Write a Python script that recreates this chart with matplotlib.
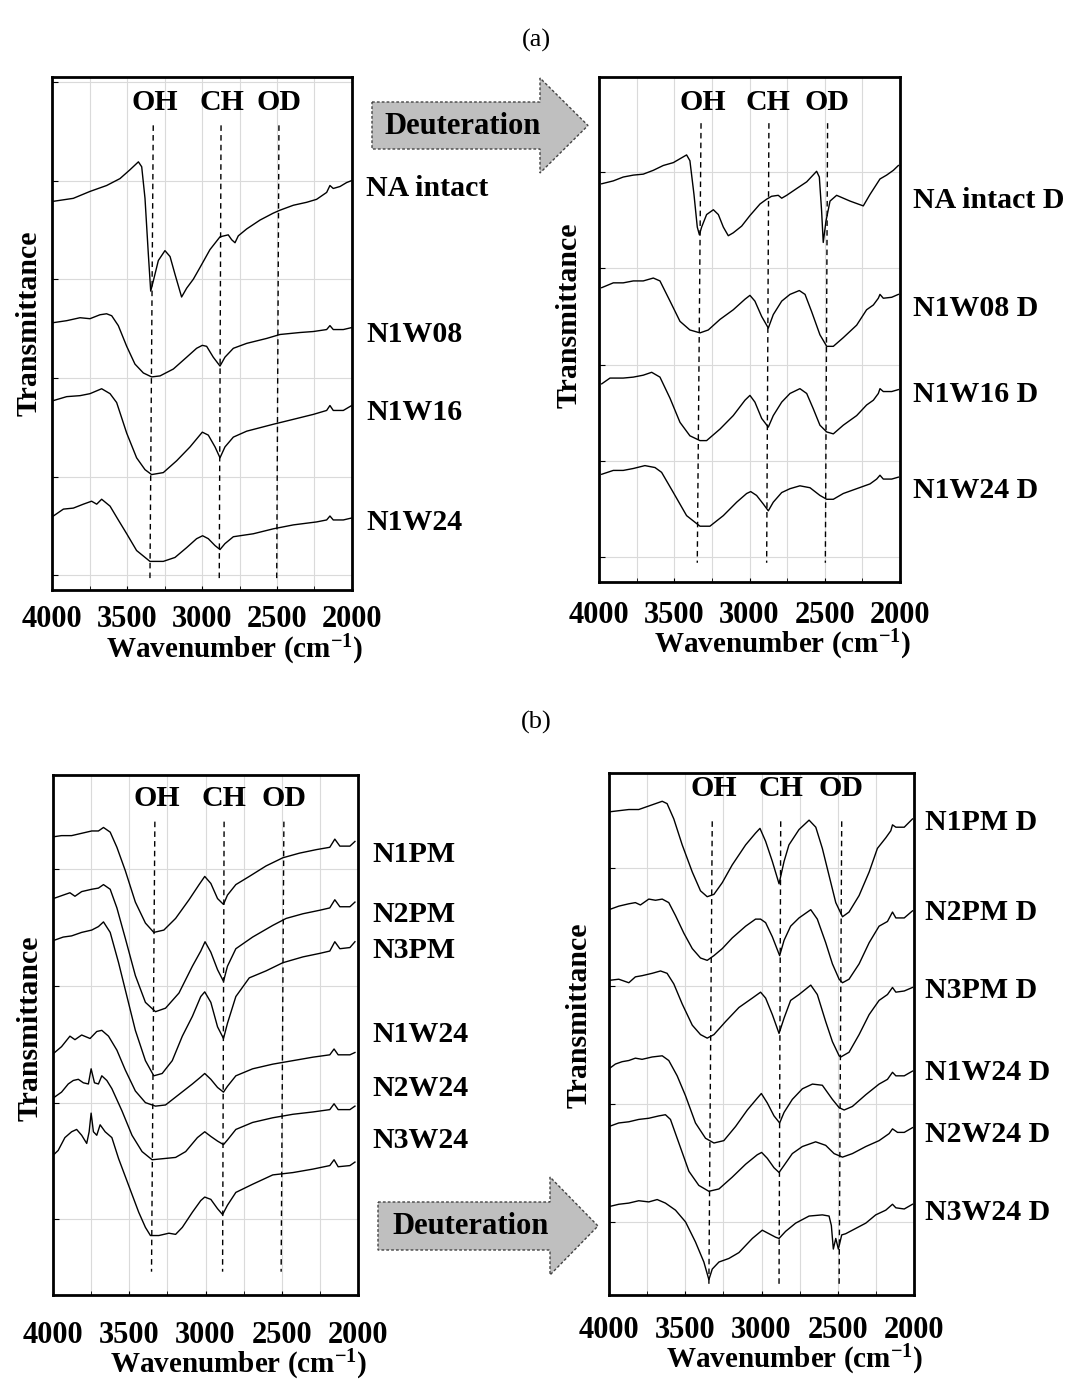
import matplotlib
matplotlib.use('Agg')
import matplotlib.pyplot as plt
from matplotlib.patches import Polygon
from matplotlib.ticker import MultipleLocator

plt.rcParams['font.family'] = ['Liberation Serif', 'DejaVu Serif']
plt.rcParams['mathtext.fontset'] = 'custom'
plt.rcParams['mathtext.rm'] = 'Liberation Serif:bold'
plt.rcParams['mathtext.it'] = 'Liberation Serif:bold'
plt.rcParams['mathtext.bf'] = 'Liberation Serif:bold'

# ---------------- data (wavenumber cm-1, transmittance a.u. offset) ----------------
xticks = [4000, 3500, 3000, 2500, 2000]
peak_names = ['OH', 'CH', 'OD']

# panel (a) left
NA_wn = [3991, 3858, 3747, 3636, 3547, 3480, 3424, 3402, 3380, 3358, 3342, 3325, 3291, 3247, 3213, 3180, 3136, 3102, 3058, 3013, 2947, 2880, 2825, 2802, 2780, 2758, 2702, 2613, 2525, 2480, 2391, 2302, 2236, 2169, 2147, 2125, 2080, 2036, 2002]
NA_T = [4.79, 4.82, 4.89, 4.95, 5.02, 5.11, 5.19, 5.14, 4.82, 4.26, 3.88, 3.98, 4.19, 4.29, 4.23, 4.05, 3.82, 3.91, 4.00, 4.12, 4.30, 4.43, 4.45, 4.40, 4.37, 4.44, 4.51, 4.60, 4.67, 4.70, 4.75, 4.78, 4.81, 4.88, 4.95, 4.92, 4.94, 4.98, 5.00]
N1W08_wn = [3991, 3902, 3813, 3747, 3680, 3636, 3602, 3558, 3502, 3447, 3391, 3336, 3280, 3191, 3102, 3036, 2998, 2969, 2925, 2880, 2847, 2791, 2702, 2569, 2480, 2347, 2258, 2169, 2147, 2125, 2058, 2002]
N1W08_T = [3.56, 3.58, 3.61, 3.60, 3.64, 3.65, 3.63, 3.53, 3.32, 3.14, 3.05, 3.01, 3.02, 3.09, 3.21, 3.30, 3.33, 3.32, 3.21, 3.12, 3.21, 3.30, 3.35, 3.40, 3.44, 3.46, 3.47, 3.49, 3.53, 3.49, 3.49, 3.51]
N1W16_wn = [3991, 3902, 3813, 3747, 3669, 3613, 3569, 3502, 3436, 3380, 3336, 3258, 3169, 3080, 2998, 2958, 2913, 2880, 2847, 2791, 2702, 2525, 2391, 2258, 2169, 2147, 2125, 2058, 2002]
N1W16_T = [2.77, 2.81, 2.82, 2.84, 2.89, 2.84, 2.75, 2.44, 2.19, 2.07, 2.02, 2.04, 2.16, 2.30, 2.45, 2.42, 2.30, 2.19, 2.30, 2.40, 2.46, 2.53, 2.58, 2.63, 2.67, 2.72, 2.67, 2.67, 2.72]
N1W24a_wn = [3991, 3924, 3858, 3791, 3736, 3702, 3669, 3613, 3558, 3502, 3436, 3347, 3258, 3180, 3102, 3036, 2996, 2958, 2913, 2880, 2847, 2791, 2658, 2525, 2391, 2236, 2169, 2147, 2125, 2058, 2002]
N1W24a_T = [1.60, 1.67, 1.68, 1.72, 1.75, 1.72, 1.77, 1.70, 1.56, 1.42, 1.25, 1.14, 1.14, 1.18, 1.28, 1.37, 1.40, 1.37, 1.30, 1.26, 1.32, 1.39, 1.42, 1.47, 1.51, 1.54, 1.56, 1.60, 1.56, 1.56, 1.58]

# panel (a) right (deuterated)
NAD_wn = [3982, 3905, 3839, 3772, 3706, 3639, 3573, 3506, 3418, 3396, 3369, 3347, 3333, 3318, 3285, 3240, 3207, 3174, 3141, 3108, 3052, 2997, 2930, 2886, 2853, 2809, 2786, 2753, 2687, 2620, 2554, 2536, 2521, 2510, 2492, 2465, 2421, 2332, 2244, 2199, 2133, 2089, 2044, 2011]
NAD_T = [4.88, 4.91, 4.95, 4.97, 4.98, 5.02, 5.07, 5.10, 5.18, 5.12, 4.77, 4.43, 4.35, 4.43, 4.56, 4.61, 4.56, 4.43, 4.34, 4.37, 4.44, 4.55, 4.67, 4.72, 4.75, 4.76, 4.73, 4.76, 4.83, 4.90, 5.01, 4.95, 4.60, 4.27, 4.49, 4.70, 4.76, 4.70, 4.65, 4.77, 4.93, 4.97, 5.02, 5.07]
N1W08D_wn = [3982, 3905, 3839, 3772, 3706, 3639, 3595, 3528, 3462, 3396, 3329, 3274, 3196, 3108, 3030, 2997, 2964, 2919, 2875, 2842, 2786, 2731, 2669, 2631, 2587, 2532, 2487, 2443, 2377, 2288, 2222, 2177, 2144, 2133, 2111, 2055, 2011]
N1W08D_T = [3.80, 3.85, 3.85, 3.87, 3.87, 3.90, 3.87, 3.66, 3.45, 3.36, 3.33, 3.36, 3.47, 3.57, 3.68, 3.72, 3.66, 3.50, 3.38, 3.52, 3.66, 3.73, 3.77, 3.73, 3.55, 3.31, 3.19, 3.19, 3.28, 3.41, 3.57, 3.62, 3.69, 3.73, 3.69, 3.70, 3.73]
N1W16D_wn = [3982, 3927, 3839, 3772, 3706, 3650, 3595, 3528, 3462, 3396, 3329, 3285, 3196, 3108, 3030, 2997, 2964, 2919, 2875, 2842, 2786, 2731, 2665, 2620, 2576, 2532, 2487, 2443, 2377, 2288, 2222, 2177, 2144, 2133, 2111, 2055, 2011]
N1W16D_T = [2.80, 2.86, 2.86, 2.87, 2.89, 2.92, 2.87, 2.65, 2.40, 2.26, 2.21, 2.21, 2.33, 2.47, 2.63, 2.68, 2.61, 2.44, 2.35, 2.47, 2.61, 2.70, 2.75, 2.70, 2.54, 2.37, 2.30, 2.28, 2.37, 2.47, 2.58, 2.63, 2.70, 2.75, 2.72, 2.72, 2.74]
N1W24D_wn = [3982, 3905, 3839, 3772, 3695, 3628, 3584, 3506, 3418, 3329, 3263, 3174, 3085, 3019, 2992, 2953, 2908, 2875, 2842, 2786, 2731, 2665, 2598, 2532, 2487, 2443, 2377, 2288, 2199, 2155, 2133, 2111, 2055, 2011]
N1W24D_T = [1.86, 1.90, 1.90, 1.92, 1.95, 1.93, 1.88, 1.67, 1.43, 1.32, 1.32, 1.43, 1.57, 1.66, 1.68, 1.64, 1.55, 1.48, 1.57, 1.67, 1.71, 1.74, 1.72, 1.64, 1.60, 1.60, 1.66, 1.71, 1.76, 1.81, 1.85, 1.81, 1.81, 1.83]

# panel (b) left
N1PM_wn = [3998, 3944, 3878, 3812, 3746, 3702, 3669, 3625, 3581, 3526, 3460, 3394, 3339, 3273, 3196, 3108, 3042, 3005, 2965, 2921, 2882, 2856, 2801, 2713, 2603, 2493, 2383, 2273, 2185, 2152, 2119, 2053, 2020]
N1PM_T = [4.28, 4.29, 4.29, 4.31, 4.33, 4.33, 4.36, 4.32, 4.19, 3.99, 3.72, 3.54, 3.46, 3.48, 3.58, 3.74, 3.87, 3.94, 3.88, 3.75, 3.70, 3.78, 3.87, 3.94, 4.03, 4.10, 4.14, 4.17, 4.19, 4.26, 4.20, 4.20, 4.24]
N2PM_wn = [3998, 3933, 3889, 3856, 3812, 3746, 3702, 3669, 3625, 3581, 3526, 3460, 3394, 3328, 3262, 3174, 3086, 3031, 3003, 2965, 2921, 2882, 2856, 2801, 2691, 2559, 2471, 2361, 2251, 2185, 2152, 2119, 2053, 2020]
N2PM_T = [3.75, 3.78, 3.80, 3.77, 3.81, 3.83, 3.84, 3.87, 3.83, 3.67, 3.41, 3.09, 2.86, 2.78, 2.81, 2.94, 3.17, 3.30, 3.38, 3.29, 3.14, 3.04, 3.17, 3.32, 3.42, 3.52, 3.58, 3.62, 3.65, 3.67, 3.74, 3.68, 3.68, 3.72]
N3PM_wn = [3998, 3933, 3878, 3812, 3746, 3702, 3669, 3625, 3570, 3515, 3460, 3394, 3339, 3284, 3218, 3152, 3086, 3031, 3005, 2965, 2921, 2882, 2856, 2801, 2713, 2603, 2493, 2361, 2251, 2185, 2152, 2119, 2053, 2020]
N3PM_T = [3.39, 3.42, 3.43, 3.46, 3.48, 3.51, 3.55, 3.46, 3.20, 2.91, 2.62, 2.36, 2.23, 2.25, 2.36, 2.57, 2.74, 2.91, 2.95, 2.86, 2.65, 2.55, 2.68, 2.91, 3.07, 3.13, 3.20, 3.25, 3.28, 3.30, 3.38, 3.32, 3.33, 3.38]
N1W24b_wn = [3998, 3944, 3889, 3856, 3812, 3757, 3713, 3680, 3636, 3581, 3526, 3460, 3394, 3328, 3262, 3174, 3086, 3031, 3005, 2965, 2921, 2882, 2856, 2801, 2691, 2559, 2427, 2295, 2185, 2157, 2130, 2053, 2020]
N1W24b_T = [2.42, 2.48, 2.57, 2.54, 2.58, 2.55, 2.61, 2.62, 2.57, 2.45, 2.28, 2.10, 2.00, 1.97, 1.98, 2.07, 2.16, 2.22, 2.25, 2.20, 2.13, 2.09, 2.14, 2.23, 2.29, 2.33, 2.36, 2.39, 2.41, 2.46, 2.41, 2.41, 2.43]
N2W24_wn = [3998, 3944, 3900, 3867, 3834, 3801, 3768, 3750, 3728, 3702, 3680, 3647, 3614, 3548, 3482, 3416, 3350, 3273, 3196, 3130, 3053, 3005, 2965, 2921, 2882, 2856, 2801, 2691, 2559, 2427, 2295, 2185, 2157, 2130, 2053, 2020]
N2W24_T = [2.04, 2.09, 2.16, 2.19, 2.20, 2.17, 2.16, 2.29, 2.17, 2.16, 2.23, 2.19, 2.12, 1.93, 1.72, 1.58, 1.51, 1.52, 1.53, 1.58, 1.70, 1.75, 1.71, 1.67, 1.64, 1.68, 1.77, 1.83, 1.87, 1.90, 1.92, 1.94, 1.99, 1.94, 1.94, 1.97]
N3W24_wn = [3998, 3966, 3922, 3878, 3845, 3812, 3779, 3763, 3750, 3735, 3713, 3691, 3658, 3614, 3570, 3504, 3438, 3394, 3361, 3306, 3240, 3196, 3152, 3086, 3031, 3005, 2965, 2921, 2888, 2856, 2801, 2691, 2559, 2427, 2295, 2185, 2157, 2130, 2053, 2020]
N3W24_T = [1.55, 1.59, 1.70, 1.75, 1.77, 1.72, 1.65, 1.75, 1.91, 1.75, 1.72, 1.81, 1.75, 1.70, 1.52, 1.29, 1.06, 0.93, 0.86, 0.86, 0.88, 0.87, 0.93, 1.06, 1.16, 1.19, 1.17, 1.09, 1.04, 1.12, 1.23, 1.30, 1.38, 1.40, 1.43, 1.46, 1.51, 1.45, 1.46, 1.49]

# panel (b) right (deuterated)
N1PMD_wn = [4000, 3936, 3870, 3805, 3739, 3695, 3651, 3619, 3575, 3520, 3454, 3400, 3356, 3312, 3257, 3192, 3104, 3039, 3010, 2973, 2929, 2885, 2852, 2820, 2754, 2688, 2644, 2601, 2557, 2513, 2469, 2426, 2360, 2294, 2240, 2185, 2152, 2141, 2119, 2064, 2010]
N1PMD_T = [4.48, 4.49, 4.50, 4.50, 4.53, 4.55, 4.57, 4.55, 4.42, 4.20, 3.97, 3.81, 3.76, 3.78, 3.88, 4.03, 4.20, 4.30, 4.34, 4.23, 4.06, 3.87, 4.06, 4.20, 4.33, 4.41, 4.35, 4.17, 3.94, 3.71, 3.59, 3.63, 3.77, 3.97, 4.17, 4.26, 4.32, 4.37, 4.35, 4.35, 4.42]
N2PMD_wn = [4000, 3936, 3870, 3827, 3794, 3739, 3695, 3651, 3608, 3564, 3509, 3454, 3400, 3356, 3312, 3257, 3192, 3104, 3039, 3006, 2973, 2929, 2881, 2852, 2809, 2754, 2677, 2634, 2579, 2535, 2491, 2469, 2426, 2360, 2294, 2229, 2174, 2141, 2119, 2064, 2010]
N2PMD_T = [3.65, 3.68, 3.70, 3.71, 3.69, 3.74, 3.73, 3.74, 3.71, 3.60, 3.45, 3.32, 3.24, 3.22, 3.26, 3.32, 3.41, 3.51, 3.57, 3.57, 3.54, 3.42, 3.26, 3.39, 3.51, 3.58, 3.65, 3.57, 3.37, 3.19, 3.06, 3.03, 3.06, 3.19, 3.37, 3.51, 3.55, 3.63, 3.58, 3.58, 3.64]
N3PMD_wn = [4000, 3936, 3870, 3827, 3783, 3717, 3662, 3619, 3575, 3520, 3454, 3400, 3356, 3312, 3236, 3148, 3060, 3006, 2973, 2929, 2885, 2852, 2809, 2754, 2677, 2634, 2579, 2535, 2491, 2480, 2426, 2360, 2294, 2229, 2174, 2141, 2119, 2064, 2010]
N3PMD_T = [3.05, 3.06, 3.03, 3.08, 3.09, 3.11, 3.13, 3.11, 3.02, 2.85, 2.67, 2.59, 2.56, 2.59, 2.70, 2.82, 2.90, 2.95, 2.90, 2.76, 2.60, 2.73, 2.88, 2.93, 3.01, 2.93, 2.70, 2.53, 2.41, 2.40, 2.44, 2.59, 2.76, 2.88, 2.93, 2.99, 2.95, 2.96, 2.99]
N1W24Db_wn = [4000, 3958, 3914, 3870, 3827, 3783, 3717, 3651, 3608, 3553, 3498, 3433, 3367, 3312, 3247, 3170, 3093, 3028, 3001, 2962, 2918, 2881, 2852, 2798, 2732, 2666, 2601, 2535, 2491, 2458, 2404, 2316, 2229, 2174, 2141, 2119, 2064, 2010]
N1W24Db_T = [2.30, 2.34, 2.36, 2.37, 2.39, 2.38, 2.40, 2.41, 2.37, 2.24, 2.07, 1.84, 1.71, 1.67, 1.69, 1.81, 1.95, 2.05, 2.09, 2.01, 1.90, 1.84, 1.93, 2.04, 2.13, 2.17, 2.16, 2.04, 1.97, 1.95, 1.98, 2.08, 2.17, 2.21, 2.27, 2.24, 2.24, 2.28]
N2W24D_wn = [4000, 3936, 3870, 3805, 3739, 3673, 3630, 3597, 3542, 3476, 3411, 3345, 3279, 3192, 3104, 3028, 2999, 2962, 2918, 2885, 2852, 2798, 2732, 2645, 2579, 2524, 2469, 2404, 2316, 2229, 2163, 2141, 2108, 2064, 2010]
N2W24D_T = [1.81, 1.84, 1.85, 1.87, 1.88, 1.90, 1.91, 1.87, 1.67, 1.43, 1.31, 1.26, 1.28, 1.38, 1.49, 1.57, 1.59, 1.54, 1.46, 1.42, 1.48, 1.58, 1.64, 1.68, 1.65, 1.58, 1.55, 1.58, 1.64, 1.69, 1.75, 1.79, 1.76, 1.76, 1.80]
N3W24D_wn = [4000, 3936, 3870, 3805, 3739, 3684, 3630, 3564, 3498, 3433, 3378, 3345, 3323, 3279, 3214, 3148, 3060, 2995, 2951, 2907, 2885, 2842, 2776, 2688, 2601, 2557, 2542, 2529, 2513, 2496, 2474, 2448, 2404, 2316, 2251, 2185, 2141, 2119, 2064, 2010]
N3W24D_T = [1.13, 1.15, 1.16, 1.18, 1.17, 1.19, 1.16, 1.10, 1.00, 0.83, 0.66, 0.51, 0.60, 0.66, 0.69, 0.74, 0.86, 0.93, 0.90, 0.87, 0.86, 0.92, 0.99, 1.05, 1.06, 1.05, 0.97, 0.77, 0.86, 0.77, 0.89, 0.90, 0.93, 0.99, 1.06, 1.10, 1.15, 1.12, 1.11, 1.15]

# marker line positions (top, bottom wavenumber) for OH, CH, OD
aL_lines_top = [3325, 2873, 2487]; aL_lines_bot = [3347, 2885, 2502]
aR_lines_top = [3322, 2871, 2481]; aR_lines_bot = [3347, 2886, 2496]
bL_lines_top = [3332, 2878, 2486]; bL_lines_bot = [3354, 2888, 2504]
bR_lines_top = [3323, 2874, 2474]; bR_lines_bot = [3345, 2885, 2491]

labels_aL = ['NA intact', 'N1W08', 'N1W16', 'N1W24']
labels_aR = ['NA intact D', 'N1W08 D', 'N1W16 D', 'N1W24 D']
labels_bL = ['N1PM', 'N2PM', 'N3PM', 'N1W24', 'N2W24', 'N3W24']
labels_bR = ['N1PM D', 'N2PM D', 'N3PM D', 'N1W24 D', 'N2W24 D', 'N3W24 D']

# ---------------- figure ----------------
W, H = 1072, 1380
fig = plt.figure(figsize=(W / 100, H / 100), dpi=100)


def rect(l, t, r, b):
    return [l / W, 1 - b / H, (r - l) / W, (b - t) / H]


def fx(px):
    return px / W


def fy(py):
    return 1 - py / H


def panel(box, ylim, curves, ltop, lbot, line_y, name_y, name_x,
          tickpad, ylpad, yl_y):
    ax = fig.add_axes(rect(*box))
    for wn, t in curves:
        ax.plot(wn, t, color='black', lw=1.0, zorder=3)
    for xt, xb in zip(ltop, lbot):
        ax.plot([xt, xb], line_y, color='black', lw=1.0, ls=(0, (4, 3)), zorder=2)
    for nm, xx in zip(peak_names, name_x):
        ax.text(xx, name_y, nm, ha='center', va='center', fontsize=21.5,
                fontweight='bold', zorder=4)
    ax.set_xlim(4000, 2000)
    ax.set_ylim(*ylim)
    ax.set_xticks(xticks)
    ax.set_xticklabels([str(v) for v in xticks], fontsize=22, fontweight='bold')
    ax.xaxis.set_minor_locator(MultipleLocator(250))
    ax.yaxis.set_major_locator(MultipleLocator(1))
    ax.set_yticklabels([])
    ax.grid(True, which='both', axis='x', color='#dadada', lw=0.8, zorder=0)
    ax.grid(True, which='major', axis='y', color='#dadada', lw=0.8, zorder=0)
    ax.tick_params(axis='x', which='both', length=3, direction='in', pad=tickpad, colors='black')
    ax.tick_params(axis='y', which='both', length=4, direction='in')
    for s in ax.spines.values():
        s.set_linewidth(2.0)
        s.set_color('black')
    ax.set_xlabel(r'Wavenumber (cm$^{-1}$)', fontsize=21, fontweight='bold', labelpad=0)
    ax.xaxis.set_label_coords(0.61, -0.5, transform=None)
    ax.xaxis.label.set_position((0.61, 0))
    ax.set_ylabel('Transmittance', fontsize=21.5, fontweight='bold', labelpad=ylpad)
    ax.yaxis.label.set_position((0, yl_y))
    return ax


def fix_xlabel(ax, px_y):
    # place x label at given pixel height (figure coords) keeping shifted centre
    ax.xaxis.set_label_coords(0.61, 0)
    ax.xaxis.label.set_transform(matplotlib.transforms.blended_transform_factory(
        ax.transAxes, fig.transFigure))
    ax.xaxis.label.set_position((0.61, fy(px_y)))
    ax.xaxis.label.set_va('center')


axA = panel((52, 77, 352, 590), (0.85, 6.05),
            [(NA_wn, NA_T), (N1W08_wn, N1W08_T), (N1W16_wn, N1W16_T), (N1W24a_wn, N1W24a_T)],
            aL_lines_top, aL_lines_bot, [5.56, 0.96], 5.79, [3313, 2869, 2485],
            11, 3.5, 0.52)
axB = panel((599, 77, 900, 582), (0.74, 5.99),
            [(NAD_wn, NAD_T), (N1W08D_wn, N1W08D_T), (N1W16D_wn, N1W16D_T), (N1W24D_wn, N1W24D_T)],
            aR_lines_top, aR_lines_bot, [5.51, 0.94], 5.73, [3311, 2875, 2487],
            14, 8, 0.528)
axC = panel((53, 775, 358, 1295), (0.35, 4.81),
            [(N1PM_wn, N1PM_T), (N2PM_wn, N2PM_T), (N3PM_wn, N3PM_T),
             (N1W24b_wn, N1W24b_T), (N2W24_wn, N2W24_T), (N3W24_wn, N3W24_T)],
            bL_lines_top, bL_lines_bot, [4.41, 0.55], 4.61, [3317, 2878, 2486],
            19, 3.5, 0.513)
axD = panel((609, 773, 914, 1295), (0.38, 4.81),
            [(N1PMD_wn, N1PMD_T), (N2PMD_wn, N2PMD_T), (N3PMD_wn, N3PMD_T),
             (N1W24Db_wn, N1W24Db_T), (N2W24D_wn, N2W24D_T), (N3W24D_wn, N3W24D_T)],
            bR_lines_top, bR_lines_bot, [4.40, 0.47], 4.68, [3312, 2874, 2480],
            15, 8, 0.536)

fix_xlabel(axA, 650)
fix_xlabel(axB, 645)
fix_xlabel(axC, 1365)
fix_xlabel(axD, 1360)

# sample labels
for lab, py in zip(labels_aL, [188, 335, 412, 523]):
    fig.text(fx(366), fy(py), lab, ha='left', va='center', fontsize=21.5, fontweight='bold')
for lab, py in zip(labels_aR, [200, 309, 395, 491]):
    fig.text(fx(913), fy(py), lab, ha='left', va='center', fontsize=21.5, fontweight='bold')
for lab, py in zip(labels_bL, [855, 915, 951, 1035, 1088, 1141]):
    fig.text(fx(372), fy(py), lab, ha='left', va='center', fontsize=21.5, fontweight='bold')
for lab, py in zip(labels_bR, [822, 912, 990, 1073, 1134, 1212]):
    fig.text(fx(925), fy(py), lab, ha='left', va='center', fontsize=21.5, fontweight='bold')

# panel titles
fig.text(fx(536), fy(40), '(a)', ha='center', va='center', fontsize=19)
fig.text(fx(536), fy(722), '(b)', ha='center', va='center', fontsize=19)


# block arrows
def block_arrow(l, bt, bb, hx, ht, hb, tip):
    cy = (bt + bb) / 2
    pts = [(l, bt), (hx, bt), (hx, ht), (tip, cy), (hx, hb), (hx, bb), (l, bb)]
    poly = Polygon([(fx(x), fy(y)) for x, y in pts], closed=True,
                   transform=fig.transFigure, facecolor='#bfbfbf',
                   edgecolor='#444444', lw=1.0, ls=(0, (2, 1.5)))
    fig.add_artist(poly)
    fig.text(fx((l + hx) / 2 + 7), fy(cy + 1), 'Deuteration', ha='center', va='center',
             fontsize=22, fontweight='bold')


block_arrow(372, 102, 149, 540, 78, 173, 588)
block_arrow(378, 1202, 1250, 550, 1177, 1275, 598)

fig.savefig('out.png', dpi=100)
